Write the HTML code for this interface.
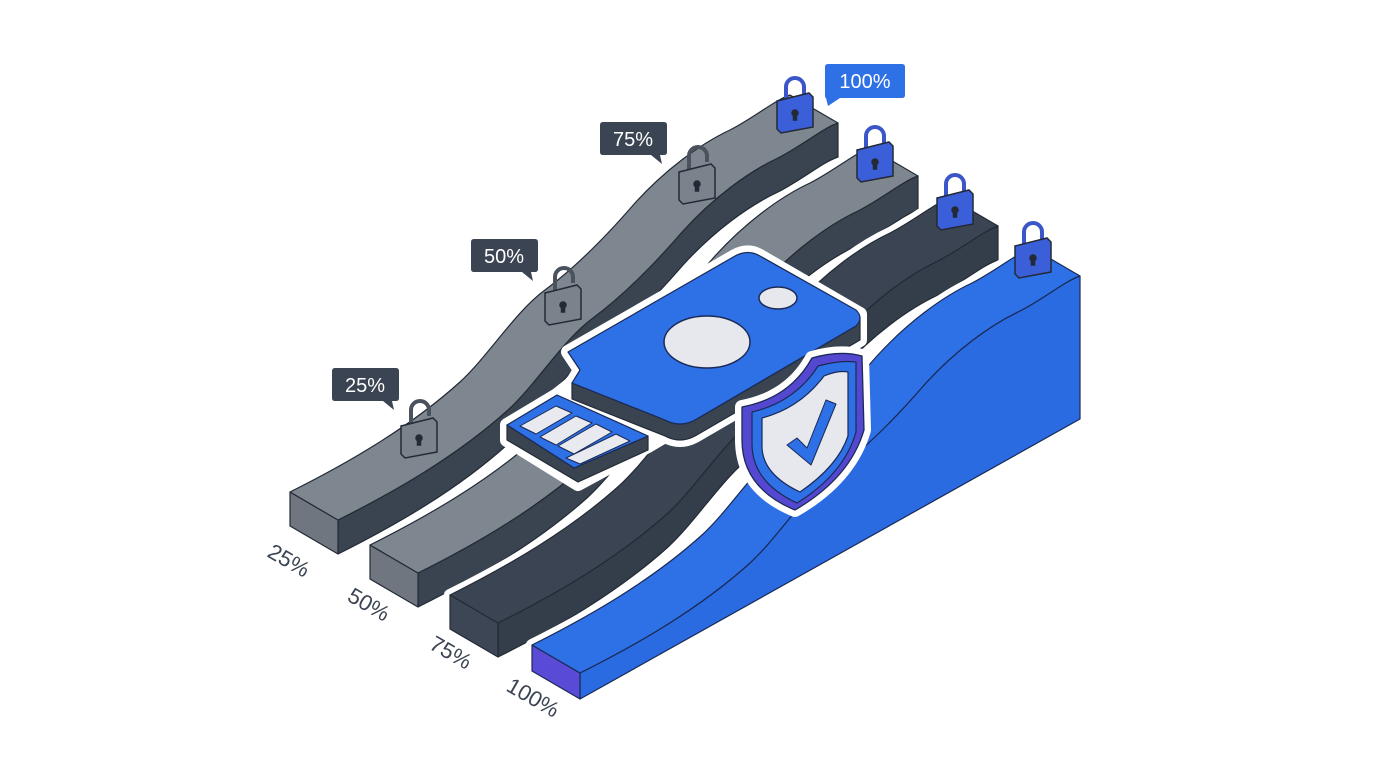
<!DOCTYPE html>
<html><head><meta charset="utf-8"><style>
html,body{margin:0;padding:0;background:#fff;}
svg{display:block}
text{font-family:"Liberation Sans",sans-serif;}
</style></head><body>
<svg width="1376" height="768" viewBox="0 0 1376 768" xmlns="http://www.w3.org/2000/svg">
<defs>
<path id="topS" d="M0,0 C60,-30 120,-65 170,-110 C200,-138 225,-180 255,-202 C290,-228 320,-260 345,-289 C375,-322 410,-348 440,-362 C465,-375 485,-392 500,-397 L548,-369 C533,-364 513,-347 488,-334 C458,-320 423,-294 393,-261 C368,-232 338,-200 303,-174 C273,-152 248,-110 218,-82 C168,-37 108,-2 48,28 Z"/>
<path id="sideG" d="M48,28 C108,-2 168,-37 218,-82 C248,-110 273,-152 303,-174 C338,-200 368,-232 393,-261 C423,-294 458,-320 488,-334 C513,-347 533,-364 548,-369 L548,-335 C533,-330 513,-313 488,-300 C458,-286 423,-260 393,-227 C368,-198 338,-166 303,-140 C273,-118 248,-76 218,-48 C168,-3 108,32 48,62 Z"/>
<path id="endG" d="M0,0 L48,28 L48,62 L0,34 Z"/>
<path id="silG" d="M0,0 C60,-30 120,-65 170,-110 C200,-138 225,-180 255,-202 C290,-228 320,-260 345,-289 C375,-322 410,-348 440,-362 C465,-375 485,-392 500,-397 L548,-369 L548,-335 C533,-330 513,-313 488,-300 C458,-286 423,-260 393,-227 C368,-198 338,-166 303,-140 C273,-118 248,-76 218,-48 C168,-3 108,32 48,62 L0,34 Z"/>
<path id="sideB" d="M48,28 C108,-2 168,-37 218,-82 C248,-110 273,-152 303,-174 C338,-200 368,-232 393,-261 C423,-294 458,-320 488,-334 C513,-347 533,-364 548,-369 L548,-226 L48,54 Z"/>
<path id="endB" d="M0,0 L48,28 L48,54 L0,26 Z"/>
<path id="silB" d="M0,0 C60,-30 120,-65 170,-110 C200,-138 225,-180 255,-202 C290,-228 320,-260 345,-289 C375,-322 410,-348 440,-362 C465,-375 485,-392 500,-397 L548,-369 L548,-226 L48,54 L0,26 Z"/>
</defs>
<g stroke-linejoin="round">
<g transform="translate(290,492)">
<use href="#silG" fill="#fff" stroke="#fff" stroke-width="12"/>
<use href="#sideG" fill="#3a4350" stroke="#232a35" stroke-width="1.2"/>
<use href="#endG" fill="#6f7680" stroke="#232a35" stroke-width="1.2"/>
<use href="#topS" fill="#7e8690" stroke="#232a35" stroke-width="1.2"/>
</g>
<g transform="translate(370,545)">
<use href="#silG" fill="#fff" stroke="#fff" stroke-width="12"/>
<use href="#sideG" fill="#3a4350" stroke="#232a35" stroke-width="1.2"/>
<use href="#endG" fill="#6f7680" stroke="#232a35" stroke-width="1.2"/>
<use href="#topS" fill="#7e8690" stroke="#232a35" stroke-width="1.2"/>
</g>
<g transform="translate(450,595)">
<use href="#silG" fill="#fff" stroke="#fff" stroke-width="12"/>
<use href="#sideG" fill="#343d4a" stroke="#232a35" stroke-width="1.2"/>
<use href="#endG" fill="#3d4654" stroke="#232a35" stroke-width="1.2"/>
<use href="#topS" fill="#3b4452" stroke="#232a35" stroke-width="1.2"/>
</g>
<g transform="translate(532,645)">
<use href="#silB" fill="#fff" stroke="#fff" stroke-width="12"/>
<use href="#sideB" fill="#2a6be2" stroke="#1a2a55" stroke-width="1.2"/>
<use href="#endB" fill="#5a4bd6" stroke="#1a2a55" stroke-width="1.2"/>
<use href="#topS" fill="#2e70e6" stroke="#1a2a55" stroke-width="1.2"/>
</g>
</g>

<!-- locks -->
<g stroke="#232a35" stroke-width="1.5">
<g transform="translate(419,438)"><path d="M-8,-14 V-28 A9,9 0 0 1 10,-28 V-22" fill="none" stroke="#4a525e" stroke-width="4"/><path d="M-18,-12 L14,-20 L18,-16 L18,14 L-14,20 L-18,16 Z" fill="#7a828c"/><circle cx="0" cy="0" r="3" fill="#232a35"/><rect x="-1.5" y="0" width="3" height="7" fill="#232a35"/></g>
<g transform="translate(563,305)"><path d="M-8,-14 V-28 A9,9 0 0 1 10,-28 V-22" fill="none" stroke="#4a525e" stroke-width="4"/><path d="M-18,-12 L14,-20 L18,-16 L18,14 L-14,20 L-18,16 Z" fill="#7a828c"/><circle cx="0" cy="0" r="3" fill="#232a35"/><rect x="-1.5" y="0" width="3" height="7" fill="#232a35"/></g>
<g transform="translate(697,184)"><path d="M-8,-14 V-28 A9,9 0 0 1 10,-28 V-22" fill="none" stroke="#4a525e" stroke-width="4"/><path d="M-18,-12 L14,-20 L18,-16 L18,14 L-14,20 L-18,16 Z" fill="#7a828c"/><circle cx="0" cy="0" r="3" fill="#232a35"/><rect x="-1.5" y="0" width="3" height="7" fill="#232a35"/></g>
<g transform="translate(795,113)"><path d="M-9,-14 V-26 A9,9 0 0 1 9,-26 V-14" fill="none" stroke="#3a56c8" stroke-width="4"/><path d="M-18,-12 L14,-20 L18,-16 L18,14 L-14,20 L-18,16 Z" fill="#3b5fd8"/><circle cx="0" cy="0" r="3" fill="#232a35"/><rect x="-1.5" y="0" width="3" height="7" fill="#232a35"/></g>
<g transform="translate(875,162)"><path d="M-9,-14 V-26 A9,9 0 0 1 9,-26 V-14" fill="none" stroke="#3a56c8" stroke-width="4"/><path d="M-18,-12 L14,-20 L18,-16 L18,14 L-14,20 L-18,16 Z" fill="#3b5fd8"/><circle cx="0" cy="0" r="3" fill="#232a35"/><rect x="-1.5" y="0" width="3" height="7" fill="#232a35"/></g>
<g transform="translate(955,210)"><path d="M-9,-14 V-26 A9,9 0 0 1 9,-26 V-14" fill="none" stroke="#3a56c8" stroke-width="4"/><path d="M-18,-12 L14,-20 L18,-16 L18,14 L-14,20 L-18,16 Z" fill="#3b5fd8"/><circle cx="0" cy="0" r="3" fill="#232a35"/><rect x="-1.5" y="0" width="3" height="7" fill="#232a35"/></g>
<g transform="translate(1033,258)"><path d="M-9,-14 V-26 A9,9 0 0 1 9,-26 V-14" fill="none" stroke="#3a56c8" stroke-width="4"/><path d="M-18,-12 L14,-20 L18,-16 L18,14 L-14,20 L-18,16 Z" fill="#3b5fd8"/><circle cx="0" cy="0" r="3" fill="#232a35"/><rect x="-1.5" y="0" width="3" height="7" fill="#232a35"/></g>
</g>

<!-- key -->
<g stroke-linejoin="round">
<path d="M568,352 L735,256 Q748,249 760,256 L860,314 L860,340 L695,436 Q680,444 665,436 L648,446 L578,484 L507,440 L507,425 L557,395 L572,383 L580,370 Z" fill="#fff" stroke="#fff" stroke-width="14"/>
<!-- body thickness -->
<path d="M572,383 L572,399 L665,436 Q680,444 695,436 L860,340 L860,318 L856,326 L695,420 Q680,428 665,420 Z" fill="#3a4350" stroke="#232a35" stroke-width="1.2"/>
<!-- blade thickness -->
<path d="M507,425 L507,440 L578,482 L648,450 L648,436 L574,468 Z" fill="#3a4350" stroke="#232a35" stroke-width="1.2"/>
<!-- blade top -->
<path d="M507,425 L557,395 L648,436 L574,468 Z" fill="#2e70e6" stroke="#1a2a55" stroke-width="1.2"/>
<g fill="#e8eaf0" stroke="#1a2a55" stroke-width="1">
<path d="M520,426 L556,406 L572,413 L536,434 Z"/>
<path d="M540,437 L576,416 L592,423 L556,445 Z"/>
<path d="M558,446 L596,424 L612,432 L574,454 Z"/>
<path d="M566,458 L616,434 L630,441 L580,464 Z"/>
</g>
<!-- body top -->
<path d="M568,352 L735,256 Q748,249 760,256 L856,310 Q864,318 856,326 L695,420 Q680,428 665,420 L572,383 L580,370 Z" fill="#2e70e6" stroke="#1a2a55" stroke-width="1.2"/>
<ellipse cx="707" cy="342" rx="43" ry="26" fill="#e6e8ee" stroke="#1a2a55" stroke-width="1.5"/>
<ellipse cx="778" cy="298" rx="19" ry="11" fill="#e6e8ee" stroke="#1a2a55" stroke-width="1.5"/>
</g>

<!-- shield -->
<g stroke-linejoin="round">
<path d="M742,407 Q790,398 812,358 Q840,350 862,356 L864,430 Q850,478 795,510 Q742,488 742,440 Z" fill="#fff" stroke="#fff" stroke-width="14"/>
<path d="M742,407 Q790,398 812,358 Q840,350 862,356 L864,430 Q850,478 795,510 Q742,488 742,440 Z" fill="#5548d0" stroke="#1a2a55" stroke-width="1.3"/>
<path d="M752,412 Q795,402 818,366 Q840,360 856,362 L856,432 Q844,474 797,503 Q752,482 752,444 Z" fill="#2e70e6" stroke="#1a2a55" stroke-width="1.2"/>
<path d="M762,418 Q800,408 824,376 Q838,370 848,372 L848,436 Q838,466 800,492 Q762,474 762,446 Z" fill="#e6e8ee" stroke="#1a2a55" stroke-width="1.2"/>
<path d="M787,445 L797,438 L807,448 L826,400 L836,404 L811,465 Z" fill="#2e70e6" stroke="#1a2a55" stroke-width="1"/>
</g>

<!-- bubbles -->
<g font-size="20" fill="#fff" text-anchor="middle">
<path d="M335,368 H396 Q399,368 399,371 V398 Q399,401 396,401 H392 L394,410 L383,401 H335 Q332,401 332,398 V371 Q332,368 335,368 Z" fill="#3b4452"/>
<text x="365" y="392">25%</text>
<path d="M474,239 H535 Q538,239 538,242 V269 Q538,272 535,272 H531 L533,281 L522,272 H474 Q471,272 471,269 V242 Q471,239 474,239 Z" fill="#3b4452"/>
<text x="504" y="263">50%</text>
<path d="M603,122 H664 Q667,122 667,125 V152 Q667,155 664,155 H660 L662,164 L651,155 H603 Q600,155 600,152 V125 Q600,122 603,122 Z" fill="#3b4452"/>
<text x="633" y="146">75%</text>
<path d="M828,64 H902 Q905,64 905,67 V95 Q905,98 902,98 H840 L828,106 L826,98 Q825,98 825,95 V67 Q825,64 828,64 Z" fill="#2e70e6"/>
<text x="865" y="88">100%</text>
</g>

<!-- bottom labels -->
<g font-size="22" fill="#3b4452">
<text transform="translate(266,556) rotate(30)">25%</text>
<text transform="translate(346,600) rotate(30)">50%</text>
<text transform="translate(428,648) rotate(30)">75%</text>
<text transform="translate(505,690) rotate(30)">100%</text>
</g>
</svg>
</body></html>
